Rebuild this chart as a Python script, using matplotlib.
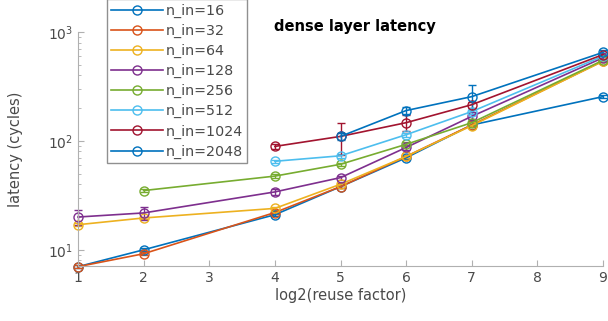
import numpy as np
from matplotlib import pyplot as plt

plt.rc('font', family='DejaVu Sans', size=10)

# log2(reuse factor) where measurements exist
reuse_log2 = [1, 2, 4, 5, 6, 7, 9]

n_in_labels = ["n_in=16", "n_in=32", "n_in=64", "n_in=128",
               "n_in=256", "n_in=512", "n_in=1024", "n_in=2048"]

nan = np.nan
lat_16 = [7, 10, 21, 38, 70, 140, 255]
lat_32 = [7, 9.2, 22, 38, 72, 140, 540]
lat_64 = [17, 19.6, 24, 40, 72, 138, 540]
lat_128 = [20, 21.8, 34, 46, 87, 168, 580]
lat_256 = [nan, 35, 47.5, 61, 93, 147, 550]
lat_512 = [nan, nan, 65, 73, 114, 186, 600]
lat_1024 = [nan, nan, 89, 110, 147, 215, 620]
lat_2048 = [nan, nan, nan, 110, 190, 255, 650]

err_16 = [0.2, 0.3, 0.5, 1, 2, 4, 8]
err_32 = [0.2, 0.3, 0.5, 1, 2, 4, 10]
err_64 = [0.5, 0.5, 0.8, 1, 2, 4, 10]
err_128 = [3, 3, 2, 2, 4, 8, 15]
err_256 = [nan, 1, 2, 2, 4, 6, 12]
err_512 = [nan, nan, 2, 3, 5, 8, 15]
err_1024 = [nan, nan, 4, 35, 25, 15, 20]
err_2048 = [nan, nan, nan, 8, 15, 70, 30]

latencies = [lat_16, lat_32, lat_64, lat_128, lat_256, lat_512, lat_1024, lat_2048]
errors = [err_16, err_32, err_64, err_128, err_256, err_512, err_1024, err_2048]

# matlab default color order (cycles after 7)
colors = ['#0072BD', '#D95319', '#EDB120', '#7E2F8E', '#77AC30', '#4DBEEE', '#A2142F', '#0072BD']

W, H = 608, 321
fig = plt.figure(figsize=(W / 100, H / 100), dpi=100)
ax = fig.add_axes([78 / W, 1 - 266 / H, (603 - 78) / W, (266 - 32) / H])

handles = []
for lat, err, col, lab in zip(latencies, errors, colors, n_in_labels):
    cont = ax.errorbar(reuse_log2, lat, yerr=err, color=col, label=lab, marker='o',
                       markerfacecolor='none', markersize=6.5, linewidth=1.2,
                       elinewidth=1.0, capsize=3, clip_on=False)
    handles.append(cont[0])

ax.set_yscale('log')
ax.set_xlim(1, 9)
ax.set_ylim(7.1, 1000)
ax.set_xticks(range(1, 10))

for side in ['top', 'right']:
    ax.spines[side].set_visible(False)
for side in ['left', 'bottom']:
    ax.spines[side].set_color('#b0b0b0')
ax.tick_params(which='both', direction='in', colors='#b0b0b0', labelcolor='#4a4a4a')
ax.tick_params(which='major', length=4)
ax.tick_params(which='minor', length=2)

ax.set_xlabel("log2(reuse factor)", color='#4a4a4a', fontsize=10.5, labelpad=2)
ax.set_ylabel("latency (cycles)", color='#4a4a4a', fontsize=10.5)
ax.yaxis.set_label_coords(-0.105, 0.5)

fig.text(355 / W, 1 - 27 / H, "dense layer latency", fontweight='bold',
         fontsize=10.5, ha='center', va='center')

leg = ax.legend(handles, n_in_labels, loc='lower left',
                bbox_to_anchor=(107 / W, 1 - 163 / H),
                bbox_transform=fig.transFigure, borderaxespad=0,
                fancybox=False, framealpha=1, edgecolor='#909090',
                handlelength=3.6, labelspacing=0.42, fontsize=10.3,
                handletextpad=0.2, borderpad=0.3)
for t in leg.get_texts():
    t.set_color('#4a4a4a')

fig.savefig('out.png', dpi=100)
